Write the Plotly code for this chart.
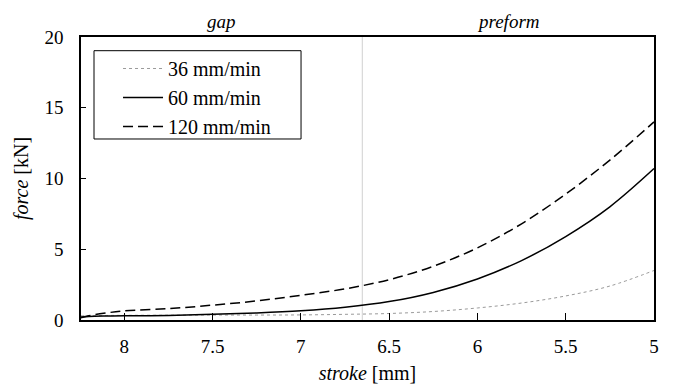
import plotly.graph_objects as go

# stroke [mm] sample positions
stroke = [8.245, 8.2, 8.1, 8.0, 7.75, 7.5, 7.25, 7.0, 6.75, 6.5, 6.25, 6.0, 5.75, 5.5, 5.25, 5.0]

# force [kN]
force_36 = [0.30, 0.30, 0.32, 0.33, 0.34, 0.35, 0.35, 0.36, 0.40, 0.46, 0.60, 0.85, 1.20, 1.70, 2.40, 3.50]
force_60 = [0.22, 0.25, 0.28, 0.30, 0.32, 0.40, 0.50, 0.65, 0.90, 1.30, 1.95, 2.90, 4.20, 5.90, 8.00, 10.70]
force_120 = [0.15, 0.30, 0.50, 0.65, 0.80, 1.05, 1.35, 1.75, 2.20, 2.85, 3.80, 5.10, 6.80, 8.90, 11.30, 14.00]

series_names = ["36 mm/min", "60 mm/min", "120 mm/min"]
x_ticks = [8, 7.5, 7, 6.5, 6, 5.5, 5]
x_tick_labels = ["8", "7.5", "7", "6.5", "6", "5.5", "5"]
y_ticks = [0, 5, 10, 15, 20]
boundary_stroke = 6.652
region_labels = ["gap", "preform"]
x_range = [8.245, 5.0]

FONT = "Liberation Serif"

fig = go.Figure()
fig.add_trace(go.Scatter(x=stroke, y=force_36, mode="lines", name=series_names[0],
                         line=dict(color="#9a9a9a", width=1, dash="dot", shape="spline")))
fig.add_trace(go.Scatter(x=stroke, y=force_60, mode="lines", name=series_names[1],
                         line=dict(color="black", width=1.5, shape="spline")))
fig.add_trace(go.Scatter(x=stroke, y=force_120, mode="lines", name=series_names[2],
                         line=dict(color="black", width=1.5, dash="10px,5px", shape="spline")))

fig.add_shape(type="line", x0=boundary_stroke, x1=boundary_stroke, y0=0, y1=1,
              xref="x", yref="paper", line=dict(color="#d0d0d0", width=1), layer="below")

# legend frame
fig.add_shape(type="rect", xref="paper", yref="paper", x0=0.0227, x1=0.384, y0=0.6396, y1=0.9516,
              line=dict(color="black", width=1), fillcolor="rgba(0,0,0,0)", layer="above")

fig.add_annotation(x=(x_range[0] + boundary_stroke) / 2, y=1, xref="x", yref="paper",
                   yanchor="bottom", yshift=3, showarrow=False,
                   text="<i>" + region_labels[0] + "</i>", font=dict(family=FONT, size=19, color="black"))
fig.add_annotation(x=(boundary_stroke + x_range[1]) / 2, y=1, xref="x", yref="paper",
                   yanchor="bottom", yshift=3, showarrow=False,
                   text="<i>" + region_labels[1] + "</i>", font=dict(family=FONT, size=19, color="black"))

fig.update_layout(
    width=677, height=392,
    margin=dict(l=73, r=31, t=29, b=80),
    paper_bgcolor="white", plot_bgcolor="white",
    font=dict(family=FONT, size=19, color="black"),
    showlegend=True,
    legend=dict(x=0.0646, y=0.9576, xanchor="left", yanchor="top",
                bgcolor="rgba(0,0,0,0)", borderwidth=0,
                font=dict(family=FONT, size=20, color="black"), itemwidth=40),
    xaxis=dict(range=x_range, tickvals=x_ticks, ticktext=x_tick_labels,
               showgrid=False, zeroline=False, showline=True, linecolor="black", linewidth=1.5,
               mirror=True, ticks="inside", ticklen=7, tickcolor="black",
               ticklabelstandoff=8,
               title=dict(text="<i>stroke</i> [mm]", standoff=10, font=dict(size=20))),
    yaxis=dict(range=[0, 20], tickvals=y_ticks,
               showgrid=False, zeroline=False, showline=True, linecolor="black", linewidth=1.5,
               mirror=True, ticks="inside", ticklen=5, tickcolor="black",
               ticklabelstandoff=12,
               title=dict(text="<i>force</i> [kN]", standoff=10, font=dict(size=20))),
)

fig.write_html("out.html")
